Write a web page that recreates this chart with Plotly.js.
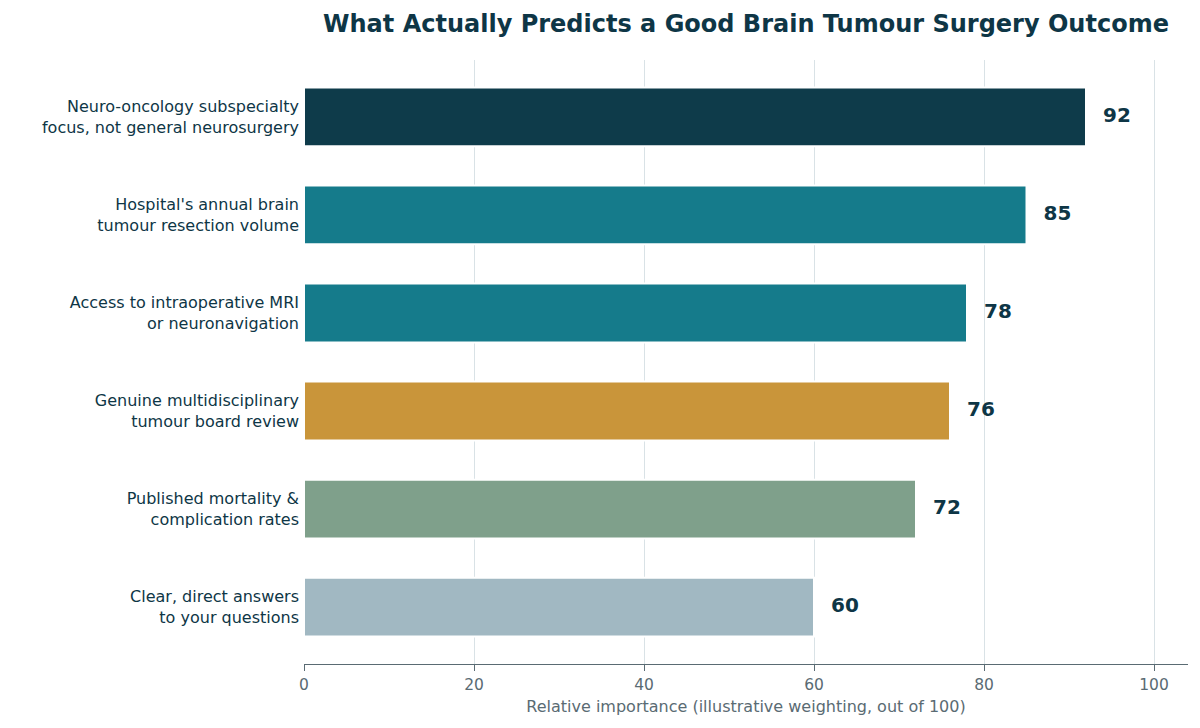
<!DOCTYPE html>
<html>
<head>
<meta charset="utf-8">
<script src="https://cdn.plot.ly/plotly-3.0.1.min.js"></script>
<style>
  html, body { margin: 0; padding: 0; background: #fff; }
  #graph { width: 1200px; height: 728px; }
</style>
</head>
<body>
<div id="graph"></div>
<script>
// factors, listed top to bottom as in the chart
var factors = [
    'Neuro-oncology subspecialty<br>focus, not general neurosurgery',
    "Hospital's annual brain<br>tumour resection volume",
    'Access to intraoperative MRI<br>or neuronavigation',
    'Genuine multidisciplinary<br>tumour board review',
    'Published mortality &amp;<br>complication rates',
    'Clear, direct answers<br>to your questions'
];
var scores = [92, 85, 78, 76, 72, 60];
var barColors = ['#0e3b4a', '#157b8b', '#157b8b', '#c9953a', '#7fa08b', '#a1b8c2'];
var xTicks = [0, 20, 40, 60, 80, 100];

var ink = '#0e3646';
var grey = '#5a6b73';

var bars = {
    type: 'bar',
    orientation: 'h',
    x: scores,
    y: factors,
    width: 0.6,
    marker: { color: barColors, line: { color: '#ffffff', width: 2 } },
    hoverinfo: 'x+y'
};

// value labels just past the end of each bar
var labels = {
    type: 'scatter',
    mode: 'text',
    x: scores.map(function(v) { return v + 2; }),
    y: factors,
    text: scores.map(String),
    textposition: 'middle right',
    textfont: { family: 'DejaVu Sans', size: 20, color: ink, weight: 'bold' },
    cliponaxis: false,
    hoverinfo: 'skip'
};

var layout = {
    width: 1200,
    height: 728,
    paper_bgcolor: '#ffffff',
    plot_bgcolor: '#ffffff',
    showlegend: false,
    margin: { l: 304, r: 12, t: 60, b: 64 },
    font: { family: 'DejaVu Sans', color: ink },
    title: {
        text: '<b>What Actually Predicts a Good Brain Tumour Surgery Outcome</b>',
        font: { family: 'DejaVu Sans', size: 24, color: ink },
        x: 0.5, xref: 'paper', xanchor: 'center',
        y: 0.967, yref: 'container', yanchor: 'middle'
    },
    xaxis: {
        range: [0, 104],
        tickvals: xTicks,
        ticktext: xTicks.map(String),
        showgrid: true,
        gridcolor: '#d9e2e6',
        gridwidth: 1.2,
        zeroline: false,
        showline: true,
        linecolor: grey,
        linewidth: 1.3,
        ticks: 'outside',
        ticklen: 6,
        tickcolor: grey,
        tickfont: { size: 15.5, color: grey },
        title: {
            text: 'Relative importance (illustrative weighting, out of 100)',
            font: { size: 16, color: grey },
            standoff: 8
        },
        fixedrange: true
    },
    yaxis: {
        type: 'category',
        range: [5.58, -0.58],
        showgrid: false,
        zeroline: false,
        showline: false,
        ticks: '',
        ticklabelstandoff: 4,
        tickfont: { size: 16, color: ink },
        fixedrange: true
    }
};

Plotly.newPlot('graph', [bars, labels], layout, { displayModeBar: false, responsive: false });
</script>
</body>
</html>
